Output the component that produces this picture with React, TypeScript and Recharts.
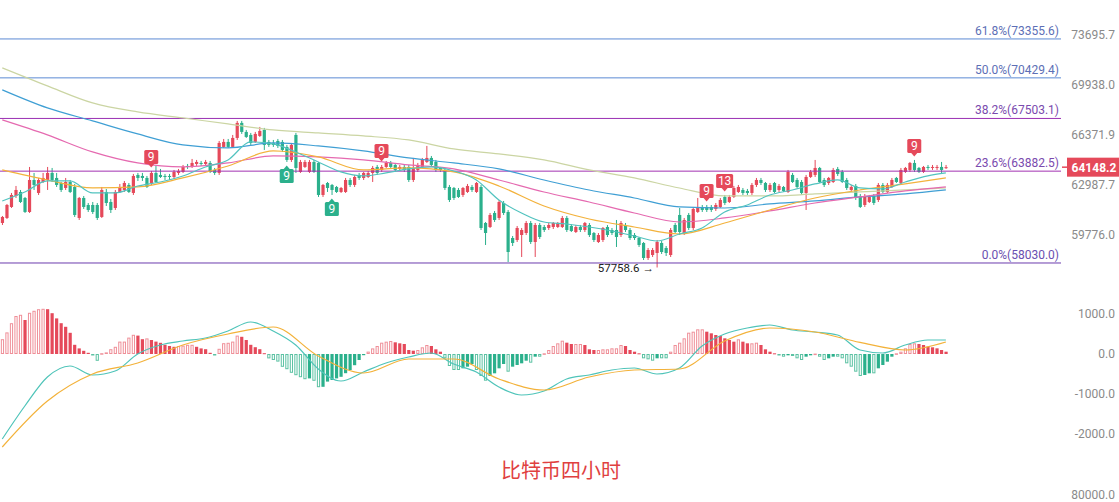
import React from 'react';
import { ComposedChart, Bar, Line, XAxis, YAxis, ReferenceLine, ReferenceDot } from 'recharts';

const opens = [60511,60829,61533,62245,62506,62115,61212,63295,62441,63163,63295,63762,63429,63097,62768,63163,62834,60829,62115,61661,61661,61661,60893,62506,61855,61468,62506,62637,62966,62441,63629,63562,63429,63097,63762,63629,63562,63562,63495,63762,63829,64230,64163,64365,64432,64365,64432,63962,63762,65521,65864,65521,66140,67188,66557,66348,65864,66279,66696,65864,65800,65932,65864,65521,64635,66348,63829,64163,63829,64500,64432,62310,63097,62966,62834,62506,62506,63295,62966,63629,63429,63495,63762,64163,63962,64163,64432,64297,64029,64163,64163,63295,63962,64163,64500,64770,64500,64096,63962,62834,62768,62637,62310,62506,62834,62506,62834,60511,60258,61148,60829,61790,61212,59568,59444,59755,59880,60511,59320,60384,60258,60195,60258,60258,60258,60829,60321,59943,60258,60069,60384,59880,59320,59444,60258,60069,60069,59755,60384,60069,59755,59568,59258,58335,58518,58641,59258,58949,58518,60384,61020,59880,61020,60195,61212,61533,61533,61533,61404,61533,62180,61855,62180,62506,62637,62572,62441,62966,63295,63097,62637,63097,62637,62834,62506,63629,63295,63163,62441,63495,63629,64096,63295,63097,63163,64029,63829,63295,62637,62900,62245,61661,61855,62245,61985,62966,62506,62834,63429,63097,63829,63962,64432,64096,63829,64163,64096,64096,64163,64096];
const highs = [60956,61726,62441,62900,62637,62180,64163,63762,63429,63762,64163,64096,63762,63163,63429,63295,63032,62180,62245,61790,61855,61790,62834,62703,62050,62637,63032,63229,63097,63696,63762,63762,63562,63895,64230,64029,63696,63696,63962,64029,64297,64365,64703,64635,64567,64635,64567,64096,65932,66070,66070,66348,67328,67328,66696,66487,66557,66907,66837,66001,66001,66070,66001,65658,65795,66487,64635,64635,64635,64635,64500,63032,63163,63032,62900,62834,63429,63429,63629,63762,63829,63895,64230,64297,64297,64567,64567,64432,64297,64297,64297,64770,64432,64770,65590,64905,64635,64163,64096,62966,62834,62768,62834,63032,62966,63163,62966,60574,61148,61276,61985,61920,61340,59693,60321,60195,60638,60638,60511,60511,60384,60511,60574,60574,60956,60956,60447,60384,60384,60574,60511,59943,59880,60258,60384,60195,60701,60638,60511,60195,59880,59631,59320,58949,58949,59444,59382,59072,60195,60511,61468,60829,61148,61533,62115,61661,61661,61661,61790,62115,62310,62310,62900,62966,62768,62703,63097,63429,63429,63163,63097,63163,63032,62900,63962,63762,63429,63295,63629,63962,64635,64163,63429,63495,64096,64163,63962,63429,62966,63032,62375,62375,62310,62375,63097,63097,63097,63429,63495,64096,64163,64500,64635,64163,64230,64297,64297,64297,64500,64297];
const lows = [60384,60765,61468,62115,61790,61148,61148,62637,62310,63097,62637,63163,62834,62506,62637,62441,60893,60701,61404,61212,61084,60701,60829,61597,61148,61340,62441,62506,62441,62310,63229,63229,62768,62966,63097,63429,63295,63295,63362,63629,63762,64029,64096,64230,64230,64230,63762,63629,63629,65452,65452,65452,66001,66418,66140,65658,65795,66209,65315,65521,65521,65452,65178,64500,64500,63762,63762,64096,63762,63762,62180,62180,62506,62310,62441,62441,62441,62834,62834,63295,63295,63429,63163,63629,63829,64096,64096,63829,63895,63829,63163,63163,63829,64096,64432,64163,63829,63829,62637,61855,61985,62115,62180,62441,62506,62441,60069,59134,60195,60574,60701,61020,58091,59072,59320,58396,59755,59196,58396,59506,59943,60069,60132,60195,60195,59943,59943,59880,59943,59943,59631,59320,59258,59320,59631,59755,59010,59631,59943,59444,59444,59010,58213,58213,58396,57758.6,58579,58457,58396,59880,59755,59755,60069,60069,61148,61212,61212,61212,61276,61468,61661,61790,62115,62441,62310,62310,62310,62834,62966,62506,62506,62441,62506,62506,62441,63097,62768,62310,61340,63429,63495,63097,62834,62966,63097,63562,63097,62637,62506,61985,61468,61533,61790,61661,61855,62441,62441,62768,63097,62966,63762,63829,63829,63762,63762,63962,63962,63962,63762,64029];
const closes = [60893,61661,62310,62637,61855,61212,63295,62966,63295,63429,63762,63295,62966,62637,63163,62506,61020,62115,61533,61340,61212,60829,62637,61790,61340,62506,62834,63097,62506,63562,63429,63429,62834,63762,63163,63495,63495,63495,63829,63895,64163,64163,64432,64500,64365,64500,63829,63762,65795,65864,65521,66140,67188,66557,66209,65795,66418,66626,65658,65658,65658,65590,65315,64635,65658,64096,64500,64500,64500,63829,62310,62966,62768,62637,62506,62768,63295,62966,63495,63429,63762,63762,64096,63762,64163,64432,64163,63962,64163,63962,63295,64096,64297,64635,64770,64297,63962,63962,62768,61985,62115,62180,62768,62900,62637,63097,60195,59880,61020,60701,61855,61148,58702,59258,60195,60069,60511,59320,60384,59631,60069,60384,60511,60511,60829,60069,60006,60258,60069,60511,59755,59444,59755,60195,59755,59880,59631,60511,60069,59568,59568,59134,58335,58825,58825,59320,58702,58641,60069,59943,59943,60701,60195,61404,61533,61340,61340,61340,61661,61985,61790,62180,62768,62834,62441,62441,62966,63295,63097,62637,62966,62506,62900,62572,63829,63163,62834,62441,63495,63829,64096,63163,62966,63429,63962,63696,63163,62768,62834,62115,61533,62245,62180,61790,62966,62506,62966,63295,63163,63962,64096,64432,63962,63829,64163,64096,64163,64163,63962,64148.2];

const maIdx = [0,10,20,30,40,50,60,70,80,90,100,110,120,130,140,150,160,170,180,190,200,209];
const fastIdx = [0,5,10,15,20,25,30,35,40,45,50,55,60,65,70,75,80,85,90,95,100,105,110,115,120,125,130,135,140,145,150,155,160,165,170,175,180,185,190,195,200,205,209];
const maFast = [61920,62506,63229,63229,62441,62441,62900,63163,63562,64163,64635,65864,65727,65178,64500,63829,63562,63762,64029,64163,63895,63295,61985,61148,60574,60447,60258,60006,59693,59382,59818,60195,61212,61661,62310,62637,63032,63295,62768,62703,63163,63562,63762];
const maOrange = [63962,63295,62768,62834,63429,64230,65247,64838,63962,64096,63829,62900,61597,60765,60258,59818,60511,61340,62115,62637,63032,63429];
const maPink = [67398,66348,65178,64432,64163,64432,64905,64838,64635,64297,64029,63295,62506,61855,61148,60574,60829,61276,61790,62180,62572,62834];
const maBlue = [69550,68250,67328,66418,65658,65452,65795,65590,65247,64770,64432,64029,63295,62637,62115,61533,61468,61726,61920,62180,62375,62637];
const maTan = [71166,69839,68607,67964,67539,67118,66696,66487,66279,66001,65384,65041,64635,63962,63429,62768,62245,62245,62375,62506,62637,62768];

const difVals = [-2125,-1300,-575,-300,-525,-425,0,225,325,400,575,800,575,225,-375,-675,-450,-225,-75,25,-250,-450,-825,-1025,-925,-625,-525,-400,-350,-500,-350,200,500,650,725,600,550,475,100,25,225,350,350];
const deaVals = [-2325,-1175,-500,-225,225,500,675,-50,-475,-125,-125,-625,-900,-575,-400,-375,325,650,550,290,100,300];
const histVals = [370,540,770,950,980,850,1030,1080,1120,1130,1120,1020,890,770,680,530,230,140,80,30,-30,-170,20,40,120,180,310,310,410,480,460,370,390,350,310,280,230,200,180,200,210,230,230,180,140,120,30,-30,130,270,280,310,460,430,350,230,170,120,20,-110,-150,-190,-320,-380,-470,-530,-580,-630,-610,-670,-830,-820,-690,-650,-610,-570,-480,-400,-280,-150,-30,60,140,200,
283,308,325,292,267,250,100,83,100,167,225,200,117,58,-108,-300,-400,-400,-358,-317,-250,-400,-550,-667,-550,-483,-358,-250,-442,-317,-275,-233,-167,-217,-67,-67,17,100,200,267,333,283,250,250,250,225,117,100,100,117,117,142,142,225,200,100,58,17,-108,-133,-167,-108,-108,-108,58,225,283,392,533,558,617,617,558,517,475,450,392,350,308,367,
308,267,267,283,225,117,58,17,-33,-67,-33,-50,-108,-150,-67,-33,10,-67,-150,-108,-67,-67,-108,-233,-317,-442,-550,-525,-483,-483,-358,-275,-192,-67,17,58,142,250,267,250,225,183,167,142,100,58];

const fibLevels = [73355.6, 70429.4, 67503.1, 63882.5, 58030.0];
const fibNames = ['61.8%', '50.0%', '38.2%', '23.6%', '0.0%'];
const fibLineColors = ['#5b8ad4', '#5b8ad4', '#9a2fb3', '#a232b2', '#6b3cae'];
const fibTextColors = ['#5d6fb6', '#5d6fb6', '#7a4aae', '#7a4aae', '#6a4fb0'];
const priceTicks = [59776.0, 62987.7, 66371.9, 69938.0, 73695.7];
const macdTicks = [1000, 0, -1000, -2000];
const tdIdx = [33, 63, 73, 84, 156, 160, 202];
const tdText = ['9', '9', '9', '9', '9', '13', '9'];
const tdSide = ['up', 'down', 'down', 'up', 'up', 'up', 'up'];
const lowIdx = 145;
const lowValue = 57758.6;
const lastPrice = 64148.2;
const title = '比特币四小时';
const volTick = '80000.0';

const SLOTS = 235;
const RED = '#e5495a';
const GREEN = '#2bb08c';
const RED_LIGHT = '#ef8f98';
const GREEN_LIGHT = '#5cc2a3';
const FONT = 'Roboto, sans-serif';

const rows: any[] = Array.from({ length: SLOTS }, (_, i) => {
  const r: any = { i, fast: null, orange: null, pink: null, blue: null, tan: null, dif: null, dea: null, hist: null };
  if (i < opens.length) {
    r.o = opens[i]; r.h = highs[i]; r.l = lows[i]; r.c = closes[i];
    r.range = [lows[i], highs[i]];
    r.hist = histVals[i];
  }
  return r;
});
fastIdx.forEach((k, j) => { rows[k].fast = maFast[j]; rows[k].dif = difVals[j]; });
maIdx.forEach((k, j) => {
  rows[k].orange = maOrange[j]; rows[k].pink = maPink[j]; rows[k].blue = maBlue[j]; rows[k].tan = maTan[j]; rows[k].dea = deaVals[j];
});

const Candle = (props: any) => {
  const { x, y, width, height, payload } = props;
  if (!payload || payload.o == null) return null;
  const { o, h, l, c } = payload;
  const top = Math.min(y, y + height);
  const span = Math.abs(height);
  const lh = Math.log(h), ll = Math.log(l);
  const toY = (v: number) => (lh === ll ? top : top + (span * (lh - Math.log(v))) / (lh - ll));
  const color = c >= o ? RED : GREEN;
  const cx = x + width / 2;
  const bTop = toY(Math.max(o, c));
  const bBot = toY(Math.min(o, c));
  return (
    <g>
      <rect x={cx - 0.5} y={top} width={1} height={span} fill={color} />
      <rect x={cx - 1.6} y={bTop} width={3.2} height={Math.max(1, bBot - bTop)} fill={color} />
    </g>
  );
};

const HistBar = (props: any) => {
  const { x, y, width, height, payload } = props;
  if (!payload || payload.hist == null) return null;
  const v = payload.hist;
  const prev = payload.i > 0 ? histVals[payload.i - 1] : v;
  const top = Math.min(y, y + height);
  const hgt = Math.max(1, Math.abs(height));
  const pos = v >= 0;
  const hollow = pos ? v >= prev : v <= prev;
  const cx = x + width / 2;
  if (hollow) {
    return <rect x={cx - 1.1} y={top + 0.5} width={2.2} height={Math.max(0.5, hgt - 1)} fill="#fff" stroke={pos ? RED_LIGHT : GREEN_LIGHT} strokeWidth={1} />;
  }
  return <rect x={cx - 1.6} y={top} width={3.2} height={hgt} fill={pos ? RED : GREEN} />;
};

const PriceTick = (props: any) => {
  const { y, payload } = props;
  return (
    <text x={1115} y={y} dy={4} textAnchor="end" fontSize={12} fill="#8a8a8a" fontFamily={FONT}>
      {Number(payload.value).toFixed(1)}
    </text>
  );
};

const FibLabel = (props: any) => {
  const { viewBox, text, color } = props;
  if (!viewBox) return null;
  return (
    <text x={viewBox.x + viewBox.width - 2} y={viewBox.y - 4} textAnchor="end" fontSize={12} fill={color} fontFamily={FONT}>
      {text}
    </text>
  );
};

const PriceTag = (props: any) => {
  const { viewBox } = props;
  if (!viewBox) return null;
  const x0 = viewBox.x + viewBox.width;
  const y = viewBox.y;
  return (
    <g>
      <line x1={x0 + 1} x2={x0 + 6} y1={y} y2={y} stroke={RED} strokeWidth={1.5} />
      <rect x={x0 + 6} y={y - 9.5} width={58} height={19} fill={RED} />
      <text x={x0 + 33} y={y + 4.5} textAnchor="middle" fontSize={12} fontWeight="bold" fill="#fff" fontFamily={FONT}>
        {lastPrice.toFixed(1)}
      </text>
    </g>
  );
};

const TdMark = (props: any) => {
  const { cx, cy, text, side } = props;
  if (cx == null || cy == null) return null;
  const w = text.length > 1 ? 17 : 14;
  const h = 14;
  const color = side === 'up' ? RED : GREEN;
  if (side === 'up') {
    const bottom = cy - 7;
    return (
      <g>
        <rect x={cx - w / 2} y={bottom - h} width={w} height={h} rx={1.5} fill={color} />
        <path d={`M${cx - 3},${bottom} L${cx + 3},${bottom} L${cx},${bottom + 3.5} Z`} fill={color} />
        <text x={cx} y={bottom - 2.5} textAnchor="middle" fontSize={12} fill="#fff" fontFamily={FONT}>{text}</text>
      </g>
    );
  }
  const topY = cy + 7;
  return (
    <g>
      <rect x={cx - w / 2} y={topY} width={w} height={h} rx={1.5} fill={color} />
      <path d={`M${cx - 3},${topY} L${cx + 3},${topY} L${cx},${topY - 3.5} Z`} fill={color} />
      <text x={cx} y={topY + 11.5} textAnchor="middle" fontSize={12} fill="#fff" fontFamily={FONT}>{text}</text>
    </g>
  );
};

const LowMark = (props: any) => {
  const { cx, cy } = props;
  if (cx == null || cy == null) return null;
  return (
    <text x={cx - 3} y={cy + 4.5} textAnchor="end" fontSize={11.5} fill="#222" fontFamily={FONT}>
      {lowValue.toFixed(1) + ' \u2192'}
    </text>
  );
};

const lineProps = { dot: false, activeDot: false, connectNulls: true, type: 'monotone' as const, isAnimationActive: false, strokeWidth: 1.2 };

export default function App() {
  return (
    <div style={{ position: 'absolute', left: 0, top: 0, width: 1119, height: 502, background: '#fff', overflow: 'hidden' }}>
      <div style={{ position: 'absolute', left: 0, top: 0 }}>
        <ComposedChart width={1119} height={290} data={rows} margin={{ top: 0, right: 0, bottom: 0, left: 0 }}>
          <XAxis dataKey="i" hide />
          <YAxis
            orientation="right"
            width={58}
            scale="log"
            domain={[56414, 76406]}
            allowDataOverflow
            ticks={priceTicks}
            tick={<PriceTick />}
            axisLine={false}
            tickLine={false}
            interval={0}
          />
          {fibLevels.map((lvl, k) => (
            <ReferenceLine
              key={'fib' + k}
              y={lvl}
              stroke={fibLineColors[k]}
              strokeWidth={1}
              label={<FibLabel text={`${fibNames[k]}(${lvl.toFixed(1)})`} color={fibTextColors[k]} />}
            />
          ))}
          <ReferenceLine y={lastPrice} stroke="none" label={<PriceTag />} />
          <Line dataKey="tan" stroke="#cbd5a3" {...lineProps} />
          <Line dataKey="blue" stroke="#3f9fd4" {...lineProps} />
          <Line dataKey="pink" stroke="#e56ab0" {...lineProps} />
          <Line dataKey="orange" stroke="#f3b23c" {...lineProps} />
          <Line dataKey="fast" stroke="#52c3bf" {...lineProps} />
          <Bar dataKey="range" shape={<Candle />} isAnimationActive={false} />
          {tdIdx.map((idx, k) => (
            <ReferenceDot
              key={'td' + k}
              x={idx}
              y={tdSide[k] === 'up' ? highs[idx] : lows[idx]}
              r={0}
              shape={(p: any) => <TdMark {...p} text={tdText[k]} side={tdSide[k]} />}
            />
          ))}
          <ReferenceDot x={lowIdx} y={lowValue} r={0} shape={(p: any) => <LowMark {...p} />} />
        </ComposedChart>
      </div>
      <div style={{ position: 'absolute', left: 0, top: 290 }}>
        <ComposedChart width={1119} height={170} data={rows} margin={{ top: 0, right: 0, bottom: 0, left: 0 }}>
          <XAxis dataKey="i" hide />
          <YAxis
            orientation="right"
            width={58}
            domain={[-2650, 1600]}
            allowDataOverflow
            ticks={macdTicks}
            tick={<PriceTick />}
            axisLine={false}
            tickLine={false}
            interval={0}
          />
          <Bar dataKey="hist" shape={<HistBar />} isAnimationActive={false} />
          <Line dataKey="dif" stroke="#4fc4b9" {...lineProps} />
          <Line dataKey="dea" stroke="#f3b23a" {...lineProps} />
        </ComposedChart>
      </div>
      <div style={{ position: 'absolute', left: 0, width: 1122, top: 456, textAlign: 'center', fontSize: 20, lineHeight: '28px', color: '#e0403f', fontFamily: '"Noto Sans CJK SC", sans-serif' }}>
        {title}
      </div>
      <div style={{ position: 'absolute', right: 4, top: 487, fontSize: 12, lineHeight: '16px', color: '#8a8a8a', fontFamily: FONT }}>
        {volTick}
      </div>
    </div>
  );
}
